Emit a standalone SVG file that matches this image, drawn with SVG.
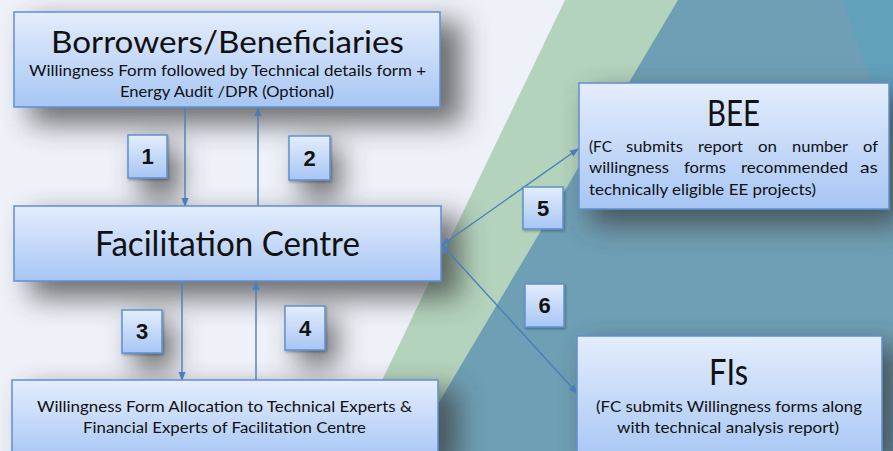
<svg xmlns="http://www.w3.org/2000/svg" width="893" height="451" viewBox="0 0 893 451">
<defs>
<linearGradient id="bx" x1="0" y1="0" x2="0" y2="1">
<stop offset="0" stop-color="#e4edfc"/>
<stop offset="1" stop-color="#a7c6f4"/>
</linearGradient>
<filter id="blur" x="-30%" y="-50%" width="160%" height="200%"><feGaussianBlur stdDeviation="14"/></filter>
<filter id="ds" x="-20%" y="-20%" width="150%" height="150%"><feDropShadow dx="1" dy="1.5" stdDeviation="1" flood-color="#000" flood-opacity="0.3"/></filter>
<marker id="ah" viewBox="0 0 10 10" refX="9" refY="5" markerWidth="9" markerHeight="9" markerUnits="userSpaceOnUse" orient="auto-start-reverse">
<path d="M0,1 L10,5 L0,9 Z" fill="#4a7ebb"/>
</marker>
<style>
.box{fill:url(#bx);stroke:#5f90d2;stroke-width:1.5}
.num{fill:url(#bx);stroke:#5f90d2;stroke-width:1.5;filter:url(#ds)}
.t{font-family:Lato,"Open Sans","Liberation Sans",sans-serif;fill:#111}
.n{font-family:"Liberation Sans",Lato,sans-serif;font-weight:bold;font-size:22px;fill:#111;text-anchor:middle}
.c{stroke:#4a7ebb;stroke-width:1.4;fill:none}
</style>
</defs>
<g id="background">
<rect x="0" y="0" width="893" height="451" fill="#eef1f8"/>
<polygon points="565,0 893,0 893,451 348,451" fill="#b3d3bc"/>
<polygon points="678,0 893,0 893,451 410,451" fill="#6e9fb4"/>
<polygon points="843,0 893,0 893,147" fill="#62a1bb"/>
<g filter="url(#blur)" fill="#3a3a3a" opacity="0.72">
<rect x="30" y="22" width="432" height="102"/>
<rect x="30" y="216" width="430" height="82"/>
<rect x="28" y="390" width="430" height="80"/>
<rect x="590" y="93" width="312" height="132"/>
<rect x="588" y="346" width="310" height="120"/>
<rect x="140" y="148" width="40" height="50"/>
<rect x="301" y="148" width="40" height="50"/>
<rect x="134" y="322" width="40" height="48"/>
<rect x="297" y="318" width="40" height="48"/>
</g>
</g>
<g id="connectors">
<line class="c" x1="185" y1="108" x2="185" y2="206" marker-end="url(#ah)"/>
<line class="c" x1="258" y1="206" x2="258" y2="108" marker-end="url(#ah)"/>
<line class="c" x1="182" y1="282" x2="182" y2="380" marker-end="url(#ah)"/>
<line class="c" x1="256" y1="380" x2="256" y2="282" marker-end="url(#ah)"/>
<line class="c" x1="442" y1="245" x2="578" y2="149" marker-start="url(#ah)" marker-end="url(#ah)"/>
<line class="c" x1="442" y1="245" x2="577" y2="393" marker-start="url(#ah)" marker-end="url(#ah)"/>
</g>
<g id="borrowers">
<rect class="box" x="14" y="12" width="426" height="95"/>
<text class="t" x="51" y="53" font-size="31" textLength="353" lengthAdjust="spacingAndGlyphs">Borrowers/Beneficiaries</text>
<text class="t" x="29" y="76" font-size="15" textLength="397" lengthAdjust="spacingAndGlyphs">Willingness Form followed by Technical details form +</text>
<text class="t" x="120" y="97" font-size="15" textLength="214" lengthAdjust="spacingAndGlyphs">Energy Audit /DPR (Optional)</text>
</g>
<g id="facilitation">
<rect class="box" x="14" y="206" width="427" height="75"/>
<text class="t" x="95" y="256" font-size="35" textLength="265" lengthAdjust="spacingAndGlyphs">Facilitation Centre</text>
</g>
<g id="allocation">
<rect class="box" x="12" y="380" width="426" height="80"/>
<text class="t" x="37" y="412" font-size="15" textLength="375" lengthAdjust="spacingAndGlyphs">Willingness Form Allocation to Technical Experts &amp;</text>
<text class="t" x="83" y="433" font-size="15" textLength="283" lengthAdjust="spacingAndGlyphs">Financial Experts of Facilitation Centre</text>
</g>
<g id="bee">
<rect class="box" x="579" y="83" width="310" height="126"/>
<text class="t" x="707" y="126" font-size="36" textLength="53" lengthAdjust="spacingAndGlyphs">BEE</text>
<g class="t" font-size="15">
<text x="589" y="152" textLength="23" lengthAdjust="spacingAndGlyphs">(FC</text>
<text x="626" y="152" textLength="57" lengthAdjust="spacingAndGlyphs">submits</text>
<text x="698" y="152" textLength="45" lengthAdjust="spacingAndGlyphs">report</text>
<text x="758" y="152" textLength="19" lengthAdjust="spacingAndGlyphs">on</text>
<text x="792" y="152" textLength="56" lengthAdjust="spacingAndGlyphs">number</text>
<text x="863" y="152" textLength="15" lengthAdjust="spacingAndGlyphs">of</text>
<text x="589" y="173" textLength="80" lengthAdjust="spacingAndGlyphs">willingness</text>
<text x="684" y="173" textLength="42" lengthAdjust="spacingAndGlyphs">forms</text>
<text x="741" y="173" textLength="107" lengthAdjust="spacingAndGlyphs">recommended</text>
<text x="860" y="173" textLength="18" lengthAdjust="spacingAndGlyphs">as</text>
<text x="589" y="195" textLength="227" lengthAdjust="spacingAndGlyphs">technically eligible EE projects)</text>
</g>
</g>
<g id="fis">
<rect class="box" x="577" y="336" width="305" height="125"/>
<text class="t" x="709" y="385" font-size="36" textLength="39" lengthAdjust="spacingAndGlyphs">FIs</text>
<text class="t" x="596" y="412" font-size="15" textLength="266" lengthAdjust="spacingAndGlyphs">(FC submits Willingness forms along</text>
<text class="t" x="617" y="433" font-size="15" textLength="222" lengthAdjust="spacingAndGlyphs">with technical analysis report)</text>
</g>
<g id="step1"><rect class="num" x="128" y="135" width="39" height="43"/><text class="n" x="147.5" y="164">1</text></g>
<g id="step2"><rect class="num" x="289" y="136" width="41" height="44"/><text class="n" x="309.5" y="166">2</text></g>
<g id="step3"><rect class="num" x="122" y="310" width="40" height="43"/><text class="n" x="142" y="339">3</text></g>
<g id="step4"><rect class="num" x="285" y="306" width="40" height="44"/><text class="n" x="305" y="336">4</text></g>
<g id="step5"><rect class="num" x="523" y="187" width="40" height="42"/><text class="n" x="543" y="216">5</text></g>
<g id="step6"><rect class="num" x="525" y="284" width="39" height="43"/><text class="n" x="544.5" y="313">6</text></g>
</svg>
